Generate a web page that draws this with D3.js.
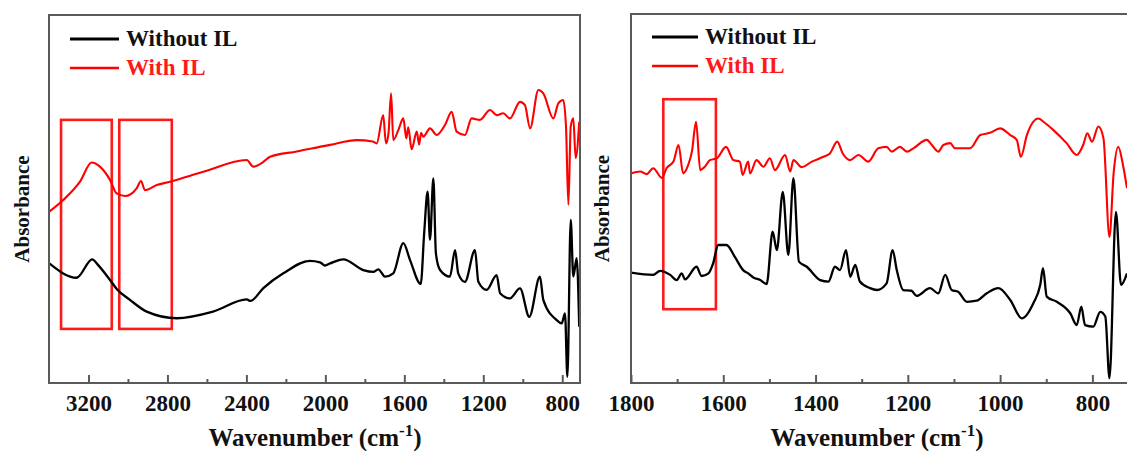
<!DOCTYPE html>
<html><head><meta charset="utf-8">
<script src="https://cdn.jsdelivr.net/npm/d3@7"></script>
<style>body{margin:0;background:#fff}svg{display:block}</style>
</head><body>
<svg id="c" width="1127" height="451"></svg>
<script>
// ---------- data ----------
const seriesNames = ["Without IL", "With IL"];
const seriesColors = ["#000000", "#ff0000"];

const leftMajorTicks = [3200, 2800, 2400, 2000, 1600, 1200, 800];
const leftMinorTicks = [3000, 2600, 2200, 1800, 1400, 1000];
const rightMajorTicks = [1800, 1600, 1400, 1200, 1000, 800];
const rightMinorTicks = [1700, 1500, 1300, 1100, 900];

const leftBlackWn  = [3400,3260,3181,3152,3091,3056,2990,2905,2753,2569,2398,2380,2314,2213,2078,2027,2002,1976,1909,1808,1757,1732,1698,1656,1605,1571,1517,1499,1482,1470,1453,1440,1419,1369,1343,1327,1293,1242,1225,1183,1132,1115,1065,1014,967,913,896,828,803,786,774,757,744,727,714];
const leftBlackAbs = [32.6,28.6,33.6,32.1,28.0,25.5,22.6,19.4,17.6,19.4,22.7,22.3,25.8,29.8,33.2,32.8,31.9,32.5,33.6,30.7,30.2,30.9,28.9,29.8,38.0,33.4,26.9,41.1,52.0,38.9,55.6,35.2,30.7,28.9,36.1,29.8,27.5,36.1,27.5,25.3,29.3,24.4,23.0,25.7,18.0,28.9,22.6,17.1,16.2,18.9,1.7,44.3,28.9,33.9,15.3];

const leftRedWn  = [3400,3328,3243,3184,3142,3091,3057,3015,2956,2934,2914,2854,2787,2618,2398,2365,2314,2280,2145,1976,1841,1760,1740,1707,1693,1680,1667,1656,1630,1605,1590,1580,1563,1537,1525,1515,1504,1470,1436,1394,1360,1335,1293,1259,1217,1166,1132,1099,1065,1014,989,963,921,896,845,820,795,781,769,757,744,732,714];
const leftRedAbs = [46.5,49.7,54.7,59.9,58.8,55.2,51.5,50.8,52.9,54.9,52.4,53.8,54.7,57.4,60.6,58.8,60.1,61.5,62.9,64.7,66.0,65.6,65.1,72.8,65.1,68.0,78.7,66.0,68.8,71.9,66.5,69.5,63.5,68.3,64.8,68.0,66.9,69.2,67.4,70.1,73.7,68.3,67.4,71.9,71.5,74.2,72.8,73.3,71.9,76.4,75.5,69.2,79.6,78.7,71.9,76.0,76.9,69.7,48.4,69.7,71.9,61.1,71.0];

const rightBlackWn  = [1800,1752,1737,1715,1701,1690,1683,1658,1647,1632,1622,1611,1593,1575,1557,1546,1535,1520,1506,1493,1484,1471,1459,1448,1436,1419,1390,1372,1358,1347,1334,1325,1314,1304,1282,1267,1246,1233,1224,1210,1192,1181,1152,1134,1119,1105,1091,1072,1051,1029,1004,978,953,928,913,907,899,877,848,834,824,816,798,783,772,763,749,738,725];
const rightBlackAbs = [29.9,29.3,30.4,29.3,27.9,29.7,28.1,31.5,29.0,29.7,32.4,37.4,37.4,34.2,30.6,29.7,28.6,27.9,26.8,41.0,36.0,51.8,34.7,55.5,32.9,31.5,27.9,27.5,31.5,30.6,36.0,28.8,32.0,27.5,25.7,25.2,27.0,36.0,30.6,25.2,25.0,23.6,25.7,24.3,29.3,25.2,24.7,22.0,22.3,24.3,25.7,22.5,17.5,21.6,26.6,31.1,23.4,22.0,18.9,15.7,20.7,15.7,15.3,19.3,18.0,1.3,46.4,26.6,29.7];

const rightRedWn  = [1800,1780,1766,1752,1733,1723,1708,1697,1687,1676,1668,1659,1650,1640,1629,1614,1594,1578,1564,1558,1546,1542,1528,1513,1499,1488,1466,1455,1448,1430,1408,1383,1369,1353,1341,1325,1307,1286,1264,1246,1235,1217,1202,1188,1159,1148,1134,1123,1108,1098,1065,1043,1022,1000,978,964,955,942,917,906,885,856,834,820,811,801,787,776,763,754,744,733,725];
const rightRedAbs = [56.8,57.3,56.6,58.2,55.6,58.2,60.0,64.5,56.8,59.1,62.7,70.8,57.7,58.6,60.4,60.9,64.0,60.4,60.0,56.4,60.0,56.8,60.4,58.6,60.9,57.7,61.8,57.3,60.4,58.5,60.0,61.3,62.2,65.4,62.2,60.4,61.8,60.0,63.6,64.0,62.7,64.0,62.7,63.6,65.9,64.5,62.7,64.5,65.0,63.6,63.6,67.2,67.8,69.0,67.2,65.9,61.3,67.2,71.7,70.8,68.6,65.0,61.8,64.5,67.7,65.4,69.5,66.3,39.6,56.8,64.0,58.6,52.8];

// highlight boxes: [wnStart, wnEnd, absTop, absBottom]
const leftBoxes  = [[3339, 3082, 71.5, 14.7], [3044, 2778, 71.5, 14.7]];
const rightBoxes = [[1730, 1616, 76.9, 20.0]];

const xTitle = "Wavenumber (cm";
const xTitleSup = "-1";
const yTitle = "Absorbance";

// ---------- drawing ----------
const svg = d3.select("#c");
const FONT = "'Liberation Serif','Times New Roman',serif";

function panel(cfg) {
  const x = d3.scaleLinear().domain(cfg.xDomain).range([cfg.left, cfg.right]);
  const y = d3.scaleLinear().domain([0, 100]).range([cfg.bottom, cfg.top]);
  const g = svg.append("g");

  // highlight boxes
  g.selectAll("rect.box").data(cfg.boxes).join("rect")
    .attr("x", d => x(d[0])).attr("y", d => y(d[2]))
    .attr("width", d => x(d[1]) - x(d[0])).attr("height", d => y(d[3]) - y(d[2]))
    .attr("fill", "none").attr("stroke", "#ff1a1a").attr("stroke-width", 2.6);

  const line = d3.line().x(d => x(d[0])).y(d => y(d[1])).curve(d3.curveMonotoneX);
  const series = [
    {pts: d3.zip(cfg.blackWn, cfg.blackAbs), color: seriesColors[0], w: 2.3},
    {pts: d3.zip(cfg.redWn, cfg.redAbs), color: seriesColors[1], w: 2.1}
  ];
  const clipId = "clip" + cfg.left;
  svg.append("defs").append("clipPath").attr("id", clipId)
    .append("rect").attr("x", cfg.left).attr("y", cfg.top).attr("width", cfg.right - cfg.left).attr("height", cfg.bottom - cfg.top);
  g.append("g").attr("clip-path", `url(#${clipId})`)
    .selectAll("path").data(series).join("path")
    .attr("d", d => line(d.pts)).attr("fill", "none")
    .attr("stroke", d => d.color).attr("stroke-width", d => d.w)
    .attr("stroke-linejoin", "round");

  // frame
  g.append("rect").attr("x", cfg.left).attr("y", cfg.top)
    .attr("width", cfg.frameRight - cfg.left).attr("height", cfg.bottom - cfg.top)
    .attr("fill", "none").attr("stroke", "#5a5a5a").attr("stroke-width", 2);

  // bottom axis (ticks pointing inward)
  const ax = d3.axisBottom(x).tickValues(cfg.major).tickSize(-8).tickFormat(d3.format("d"));
  const axG = g.append("g").attr("transform", `translate(0,${cfg.bottom})`).call(ax);
  axG.select(".domain").remove();
  axG.selectAll(".tick line").attr("stroke", "#5a5a5a").attr("stroke-width", 2);
  axG.selectAll(".tick text").attr("y", 12).attr("dy", "0.71em")
    .attr("font-family", FONT).attr("font-weight", "bold").attr("font-size", 23).attr("fill", "#111");
  const axMinor = d3.axisBottom(x).tickValues(cfg.minor).tickSize(-4).tickFormat("");
  const mG = g.append("g").attr("transform", `translate(0,${cfg.bottom})`).call(axMinor);
  mG.select(".domain").remove();
  mG.selectAll(".tick line").attr("stroke", "#5a5a5a").attr("stroke-width", 2);

  // x title
  const t = g.append("text").attr("x", (cfg.left + cfg.right) / 2 + cfg.titleShift).attr("y", 446)
    .attr("text-anchor", "middle").attr("font-family", FONT).attr("font-weight", "bold")
    .attr("font-size", 25).attr("fill", "#111");
  t.append("tspan").text(xTitle);
  t.append("tspan").attr("dy", -10).attr("font-size", 17).text(xTitleSup);
  t.append("tspan").attr("dy", 10).text(")");

  // y title
  g.append("text").attr("transform", `translate(${cfg.yTitleX},${(cfg.top + cfg.bottom) / 2 + 10}) rotate(-90)`)
    .attr("text-anchor", "middle").attr("font-family", FONT).attr("font-weight", "bold")
    .attr("font-size", 21).attr("fill", "#111").text(yTitle);

  // legend
  const lg = g.append("g").selectAll("g").data(seriesNames).join("g")
    .attr("transform", (d, i) => `translate(${cfg.legX},${cfg.legY + i * 29})`);
  lg.append("line").attr("x1", 0).attr("x2", cfg.legLen).attr("y1", -7).attr("y2", -7)
    .attr("stroke", (d, i) => seriesColors[i]).attr("stroke-width", (d, i) => i === 0 ? 3 : 2.6);
  lg.append("text").attr("x", cfg.legLen + 7).attr("y", 0)
    .attr("font-family", FONT).attr("font-weight", "bold").attr("font-size", 23)
    .attr("fill", (d, i) => seriesColors[i] === "#000000" ? "#111" : "#ff1a1a").text(d => d);
}

panel({
  xDomain: [3400, 705], left: 49, right: 581, frameRight: 580, top: 15, bottom: 383,
  blackWn: leftBlackWn, blackAbs: leftBlackAbs, redWn: leftRedWn, redAbs: leftRedAbs,
  major: leftMajorTicks, minor: leftMinorTicks, boxes: leftBoxes,
  yTitleX: 29, titleShift: 0, legX: 70, legY: 46, legLen: 49
});
panel({
  xDomain: [1800, 725], left: 631, right: 1127, frameRight: 1128, top: 14, bottom: 383,
  blackWn: rightBlackWn, blackAbs: rightBlackAbs, redWn: rightRedWn, redAbs: rightRedAbs,
  major: rightMajorTicks, minor: rightMinorTicks, boxes: rightBoxes,
  yTitleX: 609, titleShift: -2, legX: 652, legY: 44, legLen: 46
});
</script>
</body></html>
